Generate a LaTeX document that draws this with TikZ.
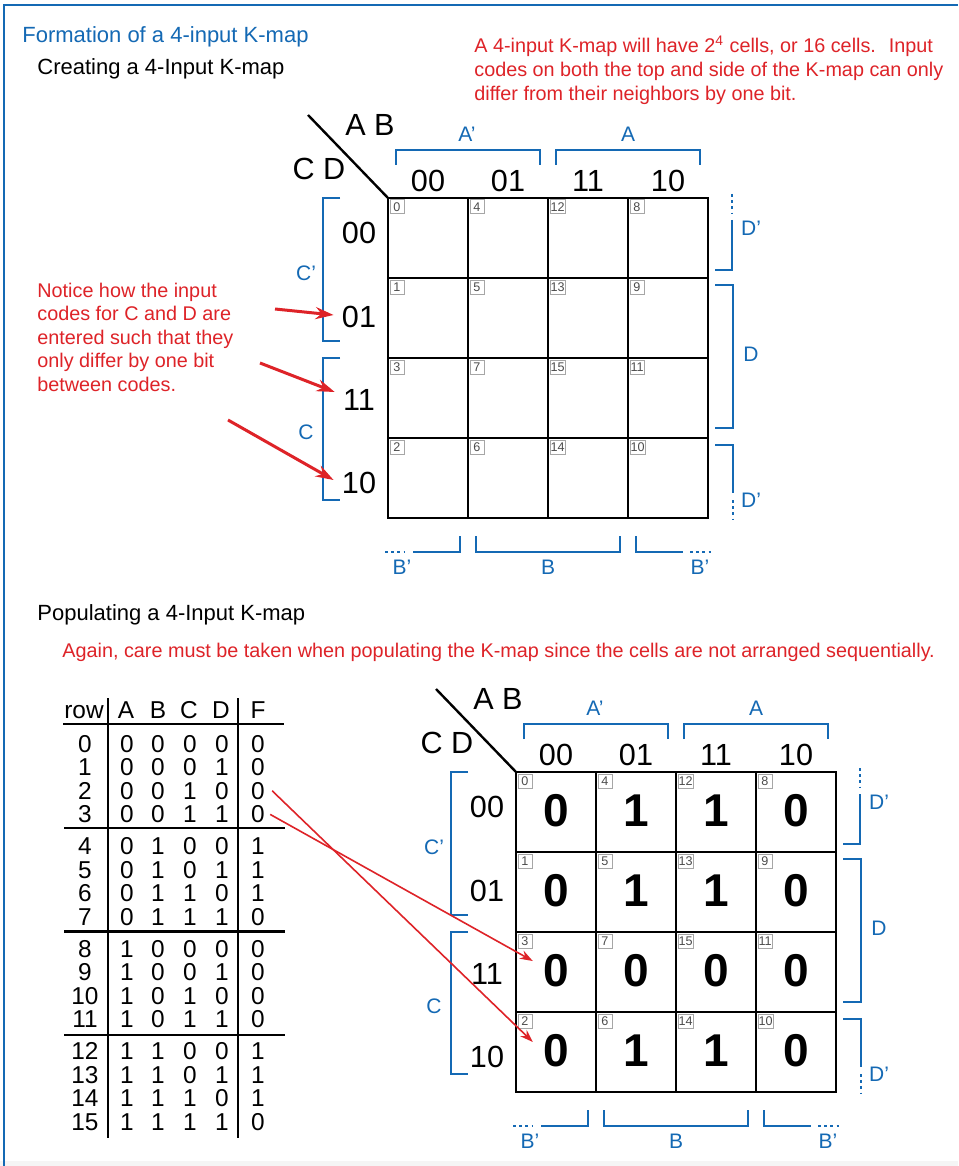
\documentclass[tikz,border=0pt]{standalone}
\usepackage{fontspec}
\setmainfont{Liberation Sans}
\usetikzlibrary{arrows.meta}
\definecolor{kblue}{RGB}{20,105,180}
\definecolor{kred}{RGB}{222,35,40}
\tikzset{
  code/.style={inner sep=0pt, font=\fontsize{15.3pt}{18pt}\selectfont},
  rcode/.style={code, inner xsep=4pt},
  blab/.style={inner sep=0pt, text=kblue, font=\fontsize{10.5pt}{12pt}\selectfont},
  brk/.style={draw=kblue, line width=1.3pt},
  brkdot/.style={draw=kblue, line width=1.3pt, dash pattern=on 1.5pt off 1.6pt},
  cell/.style={draw, line width=1.3pt, minimum size=40pt, inner sep=0pt},
  idxbox/.style={draw=gray!70, line width=0.4pt, minimum size=7pt, inner sep=0.3pt, anchor=north west, font=\fontsize{6.3pt}{7pt}\selectfont, text=black!70},
  val/.style={inner xsep=5pt, inner ysep=0pt, font=\fontsize{23pt}{26pt}\selectfont\bfseries},
  tab/.style={inner xsep=1.5pt, inner ysep=0pt, anchor=base, font=\fontsize{12.2pt}{14pt}\selectfont},
  tline/.style={line width=1.4pt},
  redtxt/.style={inner sep=0pt, anchor=base west, text=kred, font=\fontsize{9.9pt}{12pt}\selectfont},
  headtxt/.style={inner sep=0pt, anchor=base west, font=\fontsize{11pt}{13pt}\selectfont},
  rarrow/.style={draw=kred, line width=1.5pt, -{Stealth[length=9pt,width=6pt]}},
  tarrow/.style={draw=kred, line width=0.8pt, -{Stealth[length=6.5pt,width=4.5pt]}},
}
\newcommand{\kmapframe}[1]{%
  \draw[line width=1.2pt] (-80,-83) -- (0,0);
  \node[code] (#1-ab) at (-18,-73) {A B};
  \node[code] (#1-cd) at (-69,-29) {C D};
  \foreach \ci/\ct in {0/00,1/01,2/11,3/10} {
    \node[code] (#1-cc\ci) at (40+80*\ci,-17.5) {\ct};
  }
  \foreach \ri/\rt/\ry in {0/00/35,1/01/119,2/11/202,3/10/285} {
    \node[rcode] (#1-rc\ri) at (-29,\ry) {\rt};
  }
  \foreach \ci/\ab in {0/0,1/1,2/3,3/2} {
    \foreach \ri/\cd in {0/0,1/1,2/3,3/2} {
      \pgfmathtruncatemacro\idx{4*\ab+\cd}
      \node[cell] (#1-cell\idx) at (40+80*\ci,40+80*\ri) {};
      \node[idxbox] (#1-ix\idx) at (80*\ci+1.5,80*\ri+1.5) {\idx};
    }
  }
  % top brackets
  \draw[brk] (8,-33) -- (8,-48) -- (152,-48) -- (152,-33);
  \draw[brk] (168,-33) -- (168,-48) -- (312,-48) -- (312,-33);
  \node[blab] (#1-lAn) at (79,-64) {A'};
  \node[blab] (#1-lA) at (240,-64) {A};
  % left brackets
  \draw[brk] (-48,0) -- (-65,0) -- (-65,143) -- (-48,143);
  \draw[brk] (-48,160) -- (-65,160) -- (-65,302) -- (-48,302);
  \node[blab] (#1-lCn) at (-82,75) {C'};
  \node[blab] (#1-lC) at (-82,234) {C};
  % right brackets
  \draw[brkdot] (344,-4) -- (344,15);
  \draw[brk] (344,22) -- (344,72) -- (327,72);
  \draw[brk] (327,87) -- (345,87) -- (345,230) -- (327,230);
  \draw[brk] (327,247) -- (345,247) -- (345,295);
  \draw[brkdot] (345,302) -- (345,322);
  \node[blab] (#1-lDn1) at (363,30) {D'};
  \node[blab] (#1-lD) at (363,156) {D};
  \node[blab] (#1-lDn2) at (363,302) {D'};
  % bottom brackets
  \draw[brkdot] (-3,354) -- (17,354);
  \draw[brk] (25,354) -- (72,354) -- (72,338);
  \draw[brk] (88,338) -- (88,354) -- (232,354) -- (232,338);
  \draw[brk] (248,338) -- (248,354) -- (295,354);
  \draw[brkdot] (302,354) -- (323,354);
  \node[blab] (#1-lBn1) at (14,369) {B'};
  \node[blab] (#1-lB) at (160,369) {B};
  \node[blab] (#1-lBn2) at (312,369) {B'};
}
\begin{document}
\begin{tikzpicture}[x=0.5pt,y=-0.5pt]
\useasboundingbox (0,0) rectangle (958,1166);
\fill[white] (0,0) rectangle (958,1166);
\fill[gray!8] (0,1161) rectangle (958,1166);
\draw[kblue, line width=1.3pt] (4,1166) -- (4,5) -- (958,5);

% headings
\node[headtxt, text=kblue] (title) at (22,43) {Formation of a 4-input K-map};
\node[headtxt] (create) at (37,75) {Creating a 4-Input K-map};
\node[headtxt] (populate) at (37,620) {Populating a 4-Input K-map};

% notes
\node[redtxt] (nt1) at (474,53) {A 4-input K-map will have 2\textsuperscript{4} cells, or 16 cells.~ Input};
\node[redtxt] (nt2) at (474,77) {codes on both the top and side of the K-map can only};
\node[redtxt] (nt3) at (474,101) {differ from their neighbors by one bit.};
\node[redtxt] (nl1) at (37,297) {Notice how the input};
\node[redtxt] (nl2) at (37,320.5) {codes for C and D are};
\node[redtxt] (nl3) at (37,344) {entered such that they};
\node[redtxt] (nl4) at (37,367.5) {only differ by one bit};
\node[redtxt] (nl5) at (37,391) {between codes.};
\node[redtxt] (again) at (62,657) {Again, care must be taken when populating the K-map since the cells are not arranged sequentially.};

% top K-map
\begin{scope}[shift={(388,198)}]
  \kmapframe{t}
\end{scope}
\coordinate (s1) at (275,309);
\coordinate (s2) at (260,363);
\coordinate (s3) at (228,420);
\draw[rarrow] (s1) -- ([yshift=1pt]t-rc1.west);
\draw[rarrow] (s2) -- ([yshift=4pt]t-rc2.west);
\draw[rarrow] (s3) -- ([yshift=1.5pt]t-rc3.west);

% bottom K-map
\begin{scope}[shift={(516,772)}]
  \kmapframe{b}
  \foreach \idx/\ci/\ri/\vv in {0/0/0/0,4/1/0/1,12/2/0/1,8/3/0/0,
                                1/0/1/0,5/1/1/1,13/2/1/1,9/3/1/0,
                                3/0/2/0,7/1/2/0,15/2/2/0,11/3/2/0,
                                2/0/3/0,6/1/3/1,14/2/3/1,10/3/3/0} {
    \node[val] (b-v\idx) at (40+80*\ci,39+80*\ri) {\vv};
  }
\end{scope}

% truth table
\node[tab] (hrow) at (84,718) {row};
\node[tab] (hA) at (126,718) {A};
\node[tab] (hB) at (158,718) {B};
\node[tab] (hC) at (189,718) {C};
\node[tab] (hD) at (221,718) {D};
\node[tab] (hF) at (258,718) {F};
\draw[tline] (63,724) -- (284,724);
\foreach \sy in {828,931.5,1035} {
  \draw[tline] (64,\sy) -- (285,\sy);
}
\draw[tline] (108,698) -- (108,1138);
\draw[tline] (238,698) -- (238,1138);
\foreach \n in {0,...,15} {
  \pgfmathtruncatemacro\grp{\n/4}
  \pgfmathtruncatemacro\rr{mod(\n,4)}
  \pgfmathsetmacro\yb{752+\grp*102.5+\rr*23.6}
  \pgfmathtruncatemacro\ba{\n/8}
  \pgfmathtruncatemacro\bb{mod(floor(\n/4),2)}
  \pgfmathtruncatemacro\bc{mod(floor(\n/2),2)}
  \pgfmathtruncatemacro\bd{mod(\n,2)}
  \pgfmathtruncatemacro\ff{\bb*(1-\bc*\bd)}
  \node[tab] (row\n) at (85,\yb) {\n};
  \node[tab] (A\n) at (127,\yb) {\ba};
  \node[tab] (B\n) at (158,\yb) {\bb};
  \node[tab] (C\n) at (190,\yb) {\bc};
  \node[tab] (D\n) at (222,\yb) {\bd};
  \node[tab] (F\n) at (258,\yb) {\ff};
}
\draw[tarrow] ([xshift=2pt]F2.east) -- ([yshift=4.5pt]b-v2.west);
\draw[tarrow] ([xshift=1pt]F3.east) -- ([yshift=5pt]b-v3.west);
\end{tikzpicture}
\end{document}
